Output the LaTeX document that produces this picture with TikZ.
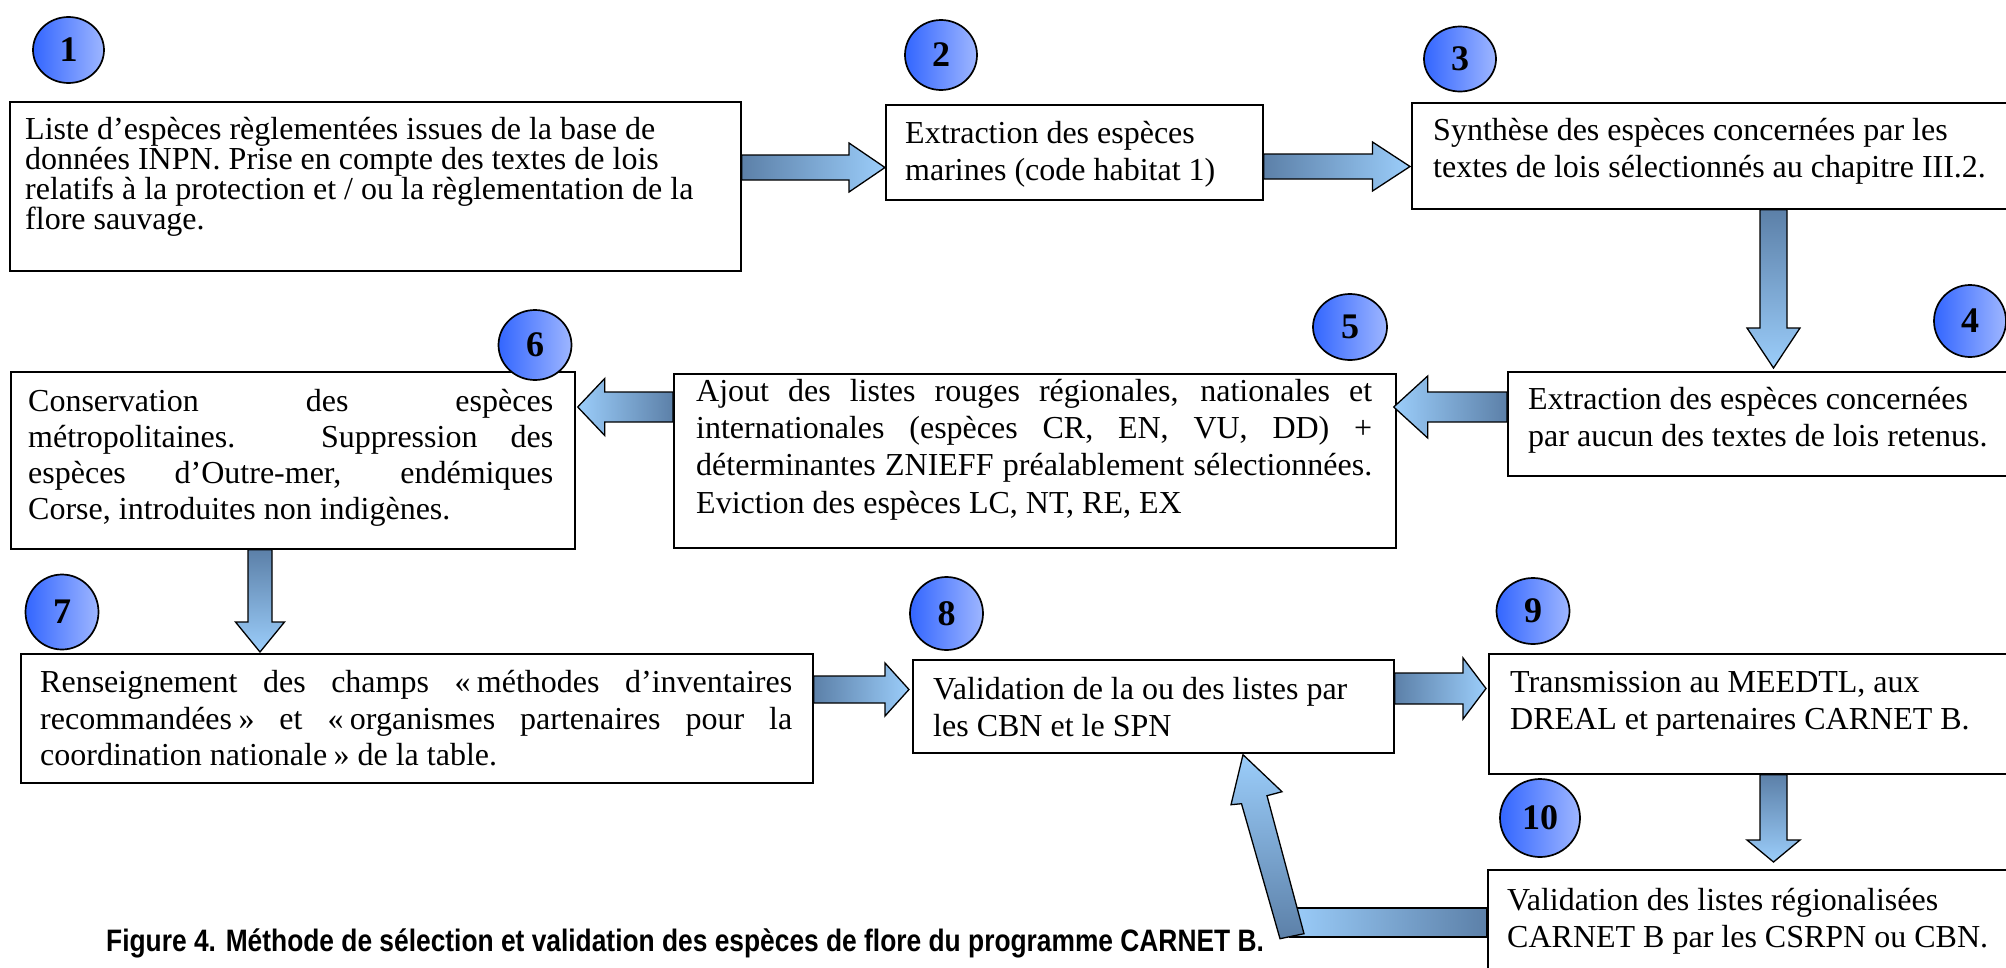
\documentclass[tikz,border=0pt]{standalone}
\usepackage{fontspec}
\setmainfont{Liberation Serif}
\newfontfamily\capfont{Liberation Sans}[FakeStretch=0.85]
\usetikzlibrary{calc,shapes.geometric}
\definecolor{arrdark}{RGB}{92,128,168}
\definecolor{arrlight}{RGB}{155,205,250}
\definecolor{cirdark}{RGB}{51,102,255}
\definecolor{cirlight}{RGB}{158,182,255}
\newcommand{\fst}{\rule{0pt}{28pt}}
% horizontal block arrow: tail, tip, body half, head half, head-base offset (x, relative to tip), style
\newcommand{\harr}[6]{\draw[barrow,#6] ($(#1)+(0,-#3)$) -- ($(#2)+(#5,-#3)$) -- ($(#2)+(#5,-#4)$) -- (#2) -- ($(#2)+(#5,#4)$) -- ($(#2)+(#5,#3)$) -- ($(#1)+(0,#3)$) -- cycle;}
% vertical block arrow
\newcommand{\varr}[6]{\draw[barrow,#6] ($(#1)+(-#3,0)$) -- ($(#2)+(-#3,#5)$) -- ($(#2)+(-#4,#5)$) -- (#2) -- ($(#2)+(#4,#5)$) -- ($(#2)+(#3,#5)$) -- ($(#1)+(#3,0)$) -- cycle;}
\tikzset{
  box/.style={draw=black, line width=1.7pt, fill=white, rectangle, inner sep=0pt, anchor=north west},
  txt/.style={anchor=north west, inner sep=0pt, font=\fontsize{32}{36.8}\selectfont, align=left},
  jtxt/.style={anchor=north west, inner sep=0pt, font=\fontsize{32}{36.8}\selectfont, align=justify},
  numc/.style={ellipse, draw=black, line width=1.7pt, left color=cirdark, right color=cirlight, inner sep=0pt, font=\bfseries\fontsize{36}{36}\selectfont},
  barrow/.style={draw=black, line width=1.3pt, line join=miter},
  toR/.style={left color=arrdark, right color=arrlight},
  toL/.style={left color=arrlight, right color=arrdark},
  toD/.style={top color=arrdark, bottom color=arrlight},
  toU/.style={top color=arrlight, bottom color=arrdark},
}
\begin{document}
\begin{tikzpicture}[x=1pt,y=-1pt]
\useasboundingbox (0,0) rectangle (2006,967);
\clip (0,0) rectangle (2006,967);
\fill[white] (0,0) rectangle (2006,967);

% boxes
\node[box, minimum width=731, minimum height=169] (b1) at (9,101) {};
\node[box, minimum width=377, minimum height=95] (b2) at (885,104) {};
\node[box, minimum width=640, minimum height=106] (b3) at (1411,102) {};
\node[box, minimum width=540, minimum height=104] (b4) at (1507,371) {};
\node[box, minimum width=722, minimum height=174] (b5) at (673,373) {};
\node[box, minimum width=564, minimum height=177] (b6) at (10,371) {};
\node[box, minimum width=792, minimum height=129] (b7) at (20,653) {};
\node[box, minimum width=481, minimum height=93] (b8) at (912,659) {};
\node[box, minimum width=560, minimum height=120] (b9) at (1488,653) {};
\node[box, minimum width=560, minimum height=140] (b10) at (1487,869) {};

% texts
\node[txt, font=\fontsize{32}{30}\selectfont] (t1) at ($(b1.north west)+(16,10)$) {\fst Liste d’espèces règlementées issues de la base de\\ données INPN. Prise en compte des textes de lois\\ relatifs à la protection et / ou la règlementation de la\\ flore sauvage.};
\node[txt] (t2) at ($(b2.north west)+(20,11)$) {\fst Extraction des espèces\\ marines (code habitat 1)};
\node[txt] (t3) at ($(b3.north west)+(22,10.5)$) {\fst Synthèse des espèces concernées par les\\ textes de lois sélectionnés au chapitre III.2.};
\node[txt] (t4) at ($(b4.north west)+(21,10)$) {\fst Extraction des espèces concernées\\ par aucun des textes de lois retenus.};
\node[jtxt, text width=676, font=\fontsize{32}{37.3}\selectfont] (t5) at ($(b5.north west)+(23,0)$) {\tolerance=10000\hbadness=10000\fst Ajout des listes rouges régionales, nationales et\linebreak internationales (espèces CR, EN, VU, DD) +\linebreak déterminantes ZNIEFF préalablement sélectionnées.\linebreak Eviction des espèces LC, NT, RE, EX};
\node[jtxt, text width=525, font=\fontsize{32}{36.2}\selectfont] (t6) at ($(b6.north west)+(18,12)$) {\tolerance=10000\hbadness=10000\fst Conservation des espèces\linebreak métropolitaines. Suppression des\linebreak espèces d’Outre-mer, endémiques\linebreak Corse, introduites non indigènes.};
\node[jtxt, text width=752] (t7) at ($(b7.north west)+(20,11)$) {\tolerance=10000\hbadness=10000\fst Renseignement des champs «\kern0.2em méthodes d’inventaires\linebreak recommandées\kern0.2em» et «\kern0.2em organismes partenaires pour la\linebreak coordination nationale\kern0.2em» de la table.};
\node[txt] (t8) at ($(b8.north west)+(21,12)$) {\fst Validation de la ou des listes par\\ les CBN et le SPN};
\node[txt] (t9) at ($(b9.north west)+(22,11)$) {\fst Transmission au MEEDTL, aux\\ DREAL et partenaires CARNET B.};
\node[txt] (t10) at ($(b10.north west)+(20,13)$) {\fst Validation des listes régionalisées\\ CARNET B par les CSRPN ou CBN.};

% number circles
\node[numc, minimum width=71, minimum height=66] (c1) at (68.5,50) {1};
\node[numc, minimum width=72, minimum height=70] (c2) at (941,55) {2};
\node[numc, minimum width=72, minimum height=65] (c3) at (1460,59) {3};
\node[numc, minimum width=72, minimum height=72] (c4) at (1970,321) {4};
\node[numc, minimum width=74, minimum height=66] (c5) at (1350,327) {5};
\node[numc, minimum width=73, minimum height=70] (c6) at (535,345) {6};
\node[numc, minimum width=73, minimum height=75] (c7) at (62,612) {7};
\node[numc, minimum width=73, minimum height=73] (c8) at (946.5,613.5) {8};
\node[numc, minimum width=73, minimum height=66] (c9) at (1533,611) {9};
\node[numc, minimum width=80, minimum height=78] (c10) at (1540,818) {10};

% arrow end points
\coordinate (a1s) at ($(b1.north east)+(0,66.5)$);
\coordinate (a1e) at ($(b2.north west)+(0,63.5)$);
\coordinate (a2s) at ($(b2.north east)+(0,62.5)$);
\coordinate (a2e) at ($(b3.north west)+(-1,64.5)$);
\coordinate (a3s) at ($(b3.south west)+(362.5,0)$);
\coordinate (a3e) at ($(b4.north west)+(266.5,-3)$);
\coordinate (a4s) at ($(b4.north west)+(0,36)$);
\coordinate (a4e) at ($(b5.north east)+(-3,34)$);
\coordinate (a5s) at ($(b5.north west)+(0,34)$);
\coordinate (a5e) at ($(b6.north east)+(2,36)$);
\coordinate (a6s) at ($(b6.south west)+(250,0)$);
\coordinate (a6e) at ($(b7.north west)+(240,-1)$);
\coordinate (a7s) at ($(b7.north east)+(0,36.5)$);
\coordinate (a7e) at ($(b8.north west)+(-3,30.5)$);
\coordinate (a8s) at ($(b8.north east)+(0,29.5)$);
\coordinate (a8e) at ($(b9.north west)+(-2,35.5)$);
\coordinate (a9s) at ($(b9.south west)+(285.5,0)$);
\coordinate (a9e) at ($(b10.north west)+(286.5,-7)$);
\coordinate (bt) at ($(b8.south west)+(331,1)$);
\coordinate (bb) at ($(b10.north west)+(0,53.5)$);

% block arrows
\harr{a1s}{a1e}{12.5}{24.5}{-36}{toR}
\harr{a2s}{a2e}{12.5}{24.5}{-37.5}{toR}
\varr{a3s}{a3e}{13.5}{26.5}{-40}{toD}
\harr{a4s}{a4e}{15}{31}{34}{toL}
\harr{a5s}{a5e}{15}{28.5}{27}{toL}
\varr{a6s}{a6e}{12}{24.5}{-30}{toD}
\harr{a7s}{a7e}{13.5}{26.5}{-24}{toR}
\harr{a8s}{a8e}{15.5}{30.5}{-23}{toR}
\varr{a9s}{a9e}{13.5}{26.5}{-22}{toD}

% bent return arrow 10 -> 8
\draw[barrow, toL] ($(bb)+(-197,-14.5)$) rectangle ($(bb)+(0,14.5)$);
\draw[barrow, toU] ($(bt)+(37,184)$) -- ($(bt)+(61,179)$) -- ($(bt)+(24,41)$) -- ($(bt)+(39,37)$) -- (bt) -- ($(bt)+(-12,50)$) -- ($(bt)+(-1.5,49)$) -- cycle;

% caption
\node[anchor=base west, inner sep=0pt, font=\capfont\bfseries\fontsize{31}{31}\selectfont] (cap) at (106,951) {Figure 4. Méthode de sélection et validation des espèces de flore du programme CARNET B.};
\end{tikzpicture}
\end{document}
